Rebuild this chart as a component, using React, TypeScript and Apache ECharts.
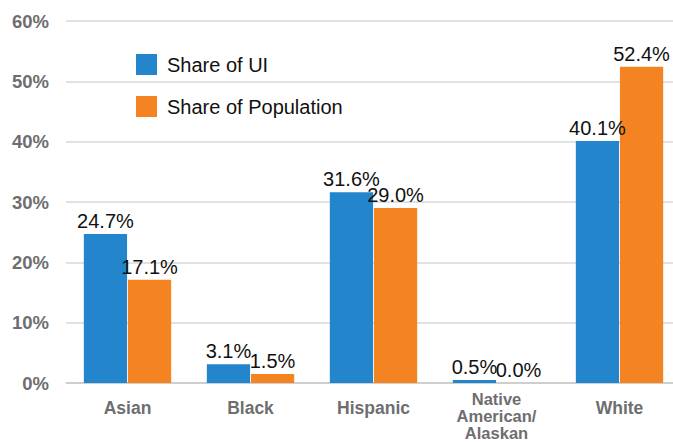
import React, { useEffect, useRef } from "react";
import * as echarts from "echarts";

const categories = ["Asian", "Black", "Hispanic", "Native\nAmerican/\nAlaskan", "White"];
const shareUI = [24.7, 3.1, 31.6, 0.5, 40.1];
const sharePop = [17.1, 1.5, 29.0, 0.0, 52.4];
const yTicks = [0, 10, 20, 30, 40, 50, 60];

export default function App() {
  const ref = useRef<HTMLDivElement>(null);
  useEffect(() => {
    const chart = echarts.init(ref.current!, null, { renderer: "svg" });
    const font = "'Liberation Sans', Arial, Helvetica, sans-serif";
    const label = {
      show: true,
      position: "top" as const,
      distance: 3,
      color: "#111",
      fontSize: 20,
      fontFamily: font,
      formatter: (p: any) => p.value.toFixed(1) + "%",
    };
    const catData = categories.map((c) =>
      c.indexOf("\n") >= 0
        ? { value: c, textStyle: { fontSize: 16.5, lineHeight: 17 } }
        : { value: c, textStyle: { padding: [9, 0, 0, 0] } }
    );
    chart.setOption({
      animation: false,
      textStyle: { fontFamily: font },
      legend: {
        orient: "vertical",
        left: 131,
        top: 49,
        itemWidth: 21,
        itemHeight: 21,
        itemGap: 21,
        icon: "rect",
        textStyle: { fontSize: 20, color: "#111", fontFamily: font, padding: [0, 0, 0, 5] },
        data: ["Share of UI", "Share of Population"],
      },
      grid: {
        left: 66,
        top: 21,
        width: 615,
        height: 362,
        containLabel: false,
        outerBoundsMode: "none",
      },
      xAxis: {
        type: "category",
        data: catData,
        axisTick: { show: false },
        axisLine: { lineStyle: { color: "#c8c8c8", width: 1.5 } },
        axisLabel: {
          color: "#6e6e70",
          fontWeight: "bold",
          fontSize: 17.5,
          lineHeight: 18,
          margin: 7,
          fontFamily: font,
          interval: 0,
        },
      },
      yAxis: {
        type: "value",
        min: yTicks[0],
        max: yTicks[yTicks.length - 1],
        interval: 10,
        axisLine: { show: false },
        axisTick: { show: false },
        splitLine: { lineStyle: { color: "#d9d9d9", width: 1.5 } },
        axisLabel: {
          formatter: "{value}%",
          color: "#6e6e70",
          fontWeight: "bold",
          fontSize: 18.5,
          margin: 17,
          fontFamily: font,
        },
      },
      series: [
        {
          name: "Share of UI",
          type: "bar",
          data: shareUI,
          barGap: "2%",
          barCategoryGap: "29%",
          itemStyle: { color: "#2385cb" },
          label,
        },
        {
          name: "Share of Population",
          type: "bar",
          data: sharePop,
          itemStyle: { color: "#f48422" },
          label,
        },
      ],
    });
    return () => chart.dispose();
  }, []);
  return <div ref={ref} style={{ width: 673, height: 442, position: "absolute", left: 0, top: 0 }} />;
}
